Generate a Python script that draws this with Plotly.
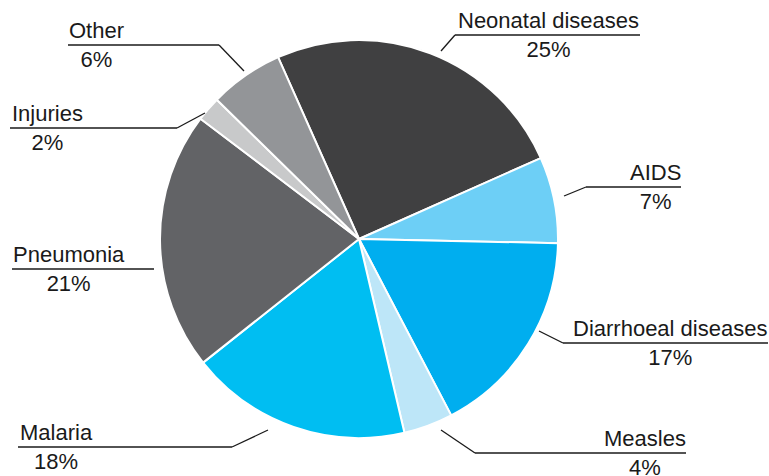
import plotly.graph_objects as go

W, H = 769, 476

# ---- data ----
categories = ["Neonatal diseases", "AIDS", "Diarrhoeal diseases", "Measles",
              "Malaria", "Pneumonia", "Injuries", "Other"]
values = [25, 7, 17, 4, 18, 21, 2, 6]
colors = ["#404041", "#6DCFF6", "#00AEEF", "#BDE6F8",
          "#00BEF2", "#626366", "#C8C9CA", "#939598"]

# ---- label layout (pixel positions of annotation decorations) ----
# text centre x, underline y, underline left x, underline right x, leader tip (x, y) or None
label_layout = {
    "Neonatal diseases":   (548, 35, 455, 640, (441, 51)),
    "AIDS":                (655, 187, 586, 681, (564, 196)),
    "Diarrhoeal diseases": (670, 343, 563, 768, (539, 331)),
    "Measles":             (645, 453, 475, 686, (441, 430)),
    "Malaria":             (56, 447, 18, 232, (268, 430)),
    "Pneumonia":           (69, 269, 12, 154, None),
    "Injuries":            (47, 128, 10, 177, (205, 113)),
    "Other":               (96, 45, 68, 219, (244, 71)),
}

cx, cy, R = 359, 239, 199


def px(x):
    return x / W


def py(y):
    return 1 - y / H


fig = go.Figure(go.Pie(
    labels=categories,
    values=values,
    sort=False,
    direction="clockwise",
    rotation=-24,
    marker=dict(colors=colors, line=dict(color="white", width=2)),
    textinfo="none",
    hoverinfo="label+percent",
    domain=dict(x=[px(cx - R), px(cx + R)], y=[py(cy + R), py(cy - R)]),
    showlegend=False,
))

FONT = dict(family="Liberation Sans, Arial, sans-serif", size=22, color="#1a1a1a")
shapes = []
annotations = []
total = sum(values)
for name, val in zip(categories, values):
    tx, uy, x0, x1, tip = label_layout[name]
    pct = round(100 * val / total)
    annotations.append(dict(
        x=px(tx), y=py(uy), xref="paper", yref="paper",
        text=f"{name}<br>{pct}%", showarrow=False,
        xanchor="center", yanchor="middle", align="center",
        font=FONT,
    ))
    shapes.append(dict(type="line", xref="paper", yref="paper",
                       x0=px(x0), x1=px(x1), y0=py(uy), y1=py(uy),
                       line=dict(color="#1a1a1a", width=1.3)))
    if tip is not None:
        ex = x1 if abs(tip[0] - x1) < abs(tip[0] - x0) else x0
        shapes.append(dict(type="line", xref="paper", yref="paper",
                           x0=px(ex), x1=px(tip[0]), y0=py(uy), y1=py(tip[1]),
                           line=dict(color="#1a1a1a", width=1.3)))

fig.update_layout(
    width=W, height=H,
    margin=dict(l=0, r=0, t=0, b=0),
    paper_bgcolor="white", plot_bgcolor="white",
    shapes=shapes, annotations=annotations,
)

fig.write_html(
    "out.html",
    config={"displayModeBar": False},
    post_script="document.body.style.margin='0';document.body.style.overflow='hidden';",
)
